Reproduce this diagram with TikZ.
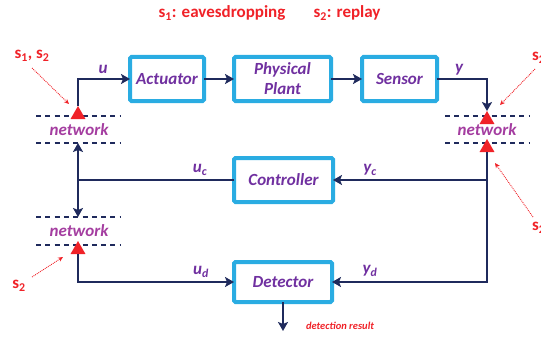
\documentclass[tikz,border=0pt]{standalone}
\usepackage{fontspec}
\setmainfont{Carlito}
\usetikzlibrary{arrows.meta,shapes.geometric}
\definecolor{navy}{HTML}{1F2A5C}
\definecolor{boxcyan}{HTML}{2AACE2}
\definecolor{lblpurple}{HTML}{7030A0}
\definecolor{netpurple}{HTML}{A43DA0}
\definecolor{attred}{HTML}{F02228}
\begin{document}
\begin{tikzpicture}[x=1pt,y=-1pt,
  blockbox/.style={draw=boxcyan,line width=4pt,fill=white,rounded corners=1.5pt,
    inner sep=0pt,outer sep=0pt,text=lblpurple,
    font=\bfseries\itshape\fontsize{17}{20}\selectfont,align=center},
  conn/.style={draw=navy,line width=2.2pt,-{Stealth[length=9pt,width=10pt,inset=2pt]}},
  plain/.style={draw=navy,line width=2.2pt},
  netline/.style={draw=navy,line width=2.7pt,dash pattern=on 5pt off 4.3pt},
  nettext/.style={text=netpurple,font=\bfseries\itshape\fontsize{17}{20}\selectfont,inner sep=0pt},
  sig/.style={text=lblpurple,font=\bfseries\itshape\fontsize{17}{20}\selectfont,inner sep=0pt},
  redtxt/.style={text=attred,font=\bfseries\fontsize{17}{20}\selectfont,inner sep=0pt},
  attack/.style={regular polygon,regular polygon sides=3,fill=attred,minimum size=17.3pt,
    inner sep=0pt,outer sep=0pt},
  attarrow/.style={draw=attred,line width=0.9pt,densely dotted,-{Stealth[length=5pt,width=4.5pt]}}
]
\useasboundingbox (0,0) rectangle (541,337);

% title
\node[redtxt] (t1) at (222,13) {s\textsubscript{1}: eavesdropping};
\node[redtxt] (t2) at (347,13) {s\textsubscript{2}: replay};

% blocks
\node[blockbox,minimum width=74pt,minimum height=44pt] (act) at (167,79) {Actuator};
\node[blockbox,minimum width=97pt,minimum height=44pt] (plant) at (282.5,79) {Physical\\Plant};
\node[blockbox,minimum width=75pt,minimum height=44pt] (sen) at (399.5,79) {Sensor};
\node[blockbox,minimum width=99pt,minimum height=44pt] (ctrl) at (283.5,180) {Controller};
\node[blockbox,minimum width=98pt,minimum height=40pt] (det) at (283,282) {Detector};

% network dashed lines
\draw[netline] (36,116) -- (121,116);
\draw[netline] (36,143) -- (121,143);
\draw[netline] (36,217) -- (121,217);
\draw[netline] (36,245) -- (121,245);
\draw[netline] (445,116) -- (530,116);
\draw[netline] (445,143) -- (530,143);

\node[nettext] (n1) at (79,130) {network};
\node[nettext] (n2) at (79,231) {network};
\node[nettext] (n3) at (487,130) {network};

% attack triangles
\node[attack] (L1) at (78,114.7) {};
\node[attack] (L2) at (78,249.7) {};
\node[attack] (R1) at (487,119.7) {};
\node[attack] (R2) at (487,147.7) {};

% coordinates
\coordinate (lc) at (78,180);
\coordinate (lt) at (78,143);
\coordinate (lb) at (78,217);
\coordinate (rc) at (487,180);
\coordinate (dres) at (283,331);

% connectors
\draw[conn] (L1.north) |- (act.west);
\draw[conn] (act.east) -- (plant.west);
\draw[conn] (plant.east) -- (sen.west);
\draw[conn] (sen.east) -| (R1.north);
\draw[conn] (R2.south) |- (det.east);
\draw[conn] (rc) -- (ctrl.east);
\draw[plain] (ctrl.west) -- (lc);
\draw[draw=navy,line width=2.2pt,{Stealth[length=9pt,width=10pt,inset=2pt]}-{Stealth[length=9pt,width=10pt,inset=2pt]}] (lt) -- (lb);
\draw[conn] (L2.south) |- (det.west);
\draw[conn] (det.south) -- (dres);

% signal labels
\node[sig] (u) at (103,69) {u};
\node[sig] (y) at (459,70) {y};
\node[sig] (uc) at (200,170) {u\textsubscript{c}};
\node[sig] (yc) at (370,170) {y\textsubscript{c}};
\node[sig] (ud) at (201,272) {u\textsubscript{d}};
\node[sig] (yd) at (370,271) {y\textsubscript{d}};

\node[text=attred,font=\bfseries\itshape\fontsize{10.5}{12}\selectfont,inner sep=0pt] (dr) at (340,326) {detection result};

% attack labels
\node[redtxt] (a1) at (32,56) {s\textsubscript{1}, s\textsubscript{2}};
\node[redtxt,anchor=west] (a2) at (532,58) {s\textsubscript{2}};
\node[redtxt,anchor=west] (a3) at (532,228) {s\textsubscript{2}};
\node[redtxt] (a4) at (19,286) {s\textsubscript{2}};

\coordinate (p1s) at (32,68);  \coordinate (p1e) at (69,104);
\coordinate (p2s) at (535,69); \coordinate (p2e) at (500,105);
\coordinate (p3s) at (533,217);\coordinate (p3e) at (495,163);
\coordinate (p4s) at (32,277); \coordinate (p4e) at (63,257);
\draw[attarrow] (p1s) -- (p1e);
\draw[attarrow] (p2s) -- (p2e);
\draw[attarrow] (p3s) -- (p3e);
\draw[attarrow] (p4s) -- (p4e);
\end{tikzpicture}
\end{document}
